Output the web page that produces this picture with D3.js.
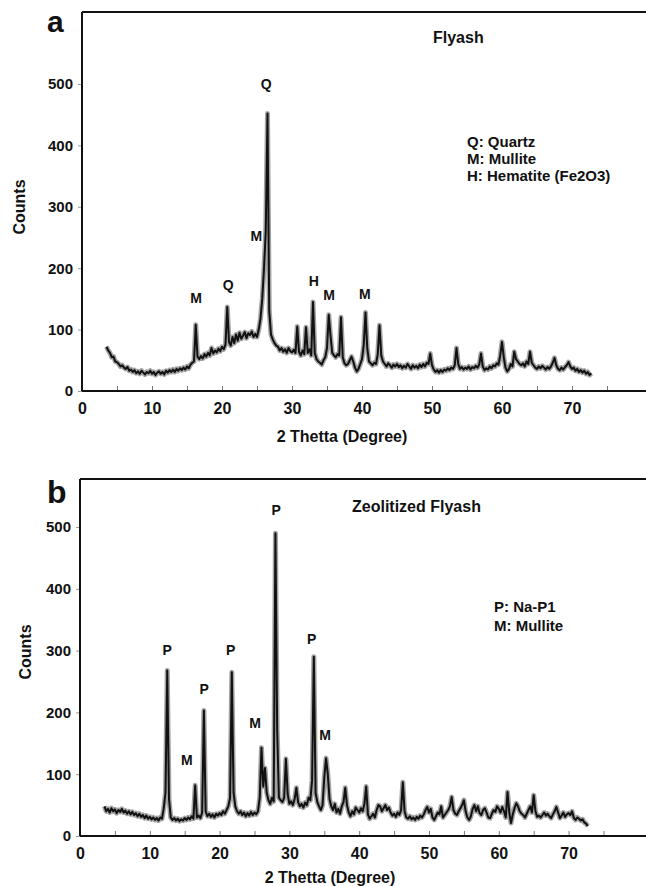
<!DOCTYPE html>
<html>
<head>
<meta charset="utf-8">
<script src="https://cdn.jsdelivr.net/npm/d3@7"></script>
<style>
  body { margin: 0; background: #fff; }
  svg { display: block; font-family: "Liberation Sans", Arial, sans-serif; font-weight: bold; }
</style>
</head>
<body>
<div id="chart"></div>
<script>
'use strict';

// scan starts at 3.5 deg, one reading every 0.25 deg
const scanStart = 3.5;
const scanStep = 0.25;

const flyashCounts = [
    72, 66,
    62, 55, 56, 48,   47, 44, 40, 42,   38, 36, 39, 33,   35, 31, 34, 29,
    32, 28, 33, 30,   27, 31, 29, 33,   28, 31, 26, 30,   32, 28, 31, 27,
    33, 30, 34, 31,   35, 31, 36, 33,   37, 34, 38, 35,   40, 37, 43, 46,
    48, 108, 56, 52,  57, 53, 60, 56,   62, 58, 70, 61,   66, 63, 69, 65,
    72, 68, 76, 137,  80, 74, 88, 78,   92, 82, 95, 85,   90, 96, 86, 94,
    91, 97, 88, 93,   88, 100, 118, 150, 200, 260, 452, 130, 92, 84, 78, 74,
    72, 66, 70, 64,   68, 62, 70, 65,   63, 67, 62, 105,  64, 58, 66, 60,
    104, 62, 68, 58,  145, 62, 52, 48,  46, 43, 50, 55,   70, 124, 90, 62,
    58, 55, 60, 58,   120, 55, 45, 42,  44, 50, 56, 48,   38, 32, 36, 44,
    52, 75, 128, 70,  48, 45, 42, 46,   44, 60, 107, 58,  48, 44, 40, 45,
    42, 38, 43, 40,   44, 39, 42, 37,   41, 38, 44, 40,   36, 42, 38, 41,
    37, 43, 39, 44,   40, 46, 44, 61,   42, 35, 31, 34,   30, 34, 31, 35,
    33, 37, 34, 38,   36, 42, 70, 44,   36, 39, 35, 38,   36, 40, 35, 39,
    37, 41, 38, 43,   61, 40, 34, 37,   35, 40, 37, 42,   40, 45, 43, 58,
    80, 55, 38, 32,   36, 44, 40, 64,   52, 48, 44, 42,   45, 40, 48, 44,
    64, 46, 42, 38,   36, 40, 37, 41,   38, 35, 39, 36,   40, 46, 54, 42,
    36, 34, 38, 35,   39, 42, 47, 40,   36, 38, 33, 36,   31, 34, 30, 33,
    28, 31, 26, 29
];

const zeoliteCounts = [
    48, 40,
    44, 38, 45, 40,   43, 37, 42, 39,   44, 38, 41, 36,   40, 35, 39, 34,
    37, 32, 36, 31,   34, 29, 33, 28,   31, 27, 30, 26,   29, 25, 30, 28,
    45, 70, 268, 60,  30, 26, 29, 25,   28, 24, 27, 25,   29, 26, 30, 27,
    32, 28, 82, 30,   33, 29, 38, 203,  40, 32, 36, 31,   35, 30, 36, 33,
    37, 34, 40, 36,   42, 48, 62, 265,  70, 48, 40, 36,   40, 34, 38, 32,
    37, 33, 39, 34,   38, 35, 40, 62,   143, 80, 110, 70, 58, 52, 62, 56,
    490, 170, 62, 58, 55, 62, 125, 68,  52, 56, 50, 60,   78, 55, 48, 52,
    46, 54, 50, 62,   58, 90, 290, 70,  55, 48, 42, 50,   95, 126, 100, 60,
    48, 42, 52, 38,   44, 36, 48, 55,   78, 50, 38, 32,   40, 35, 46, 42,
    38, 45, 40, 52,   80, 35, 28, 32,   36, 30, 42, 50,   48, 40, 45, 50,
    42, 46, 38, 33,   36, 31, 38, 34,   42, 87, 40, 30,   28, 32, 27, 30,
    26, 31, 28, 33,   30, 35, 42, 47,   38, 44, 30, 26,   32, 38, 35, 48,
    30, 34, 38, 42,   48, 63, 42, 36,   34, 40, 45, 50,   58, 40, 30, 26,
    32, 44, 50, 40,   48, 37, 34, 42,   45, 38, 30, 29,   36, 42, 39, 48,
    44, 38, 47, 40,   30, 71, 38, 21,   35, 45, 53, 48,   40, 36, 34, 30,
    36, 42, 48, 38,   66, 40, 31, 33,   30, 34, 38, 33,   36, 32, 29, 35,
    40, 47, 38, 29,   33, 38, 31, 35,   37, 34, 40, 29,   26, 30, 28, 25,
    27, 22, 20, 16
];

const countTicks = [0, 100, 200, 300, 400, 500];
const angleTicks = [0, 5, 10, 15, 20, 25, 30, 35, 40, 45, 50, 55, 60, 65, 70, 75];
const angleLabels = [0, 10, 20, 30, 40, 50, 60, 70];

const flyashPeaks = [
    {label: 'Q', angle: 26.3, count: 492},
    {label: 'M', angle: 16.3, count: 143},
    {label: 'Q', angle: 20.9, count: 164},
    {label: 'M', angle: 24.9, count: 244},
    {label: 'H', angle: 33.1, count: 171},
    {label: 'M', angle: 35.3, count: 148},
    {label: 'M', angle: 40.4, count: 150}
];

const zeolitePeaks = [
    {label: 'P', angle: 28.1, count: 519},
    {label: 'P', angle: 12.5, count: 293},
    {label: 'P', angle: 21.6, count: 293},
    {label: 'P', angle: 33.2, count: 311},
    {label: 'P', angle: 17.8, count: 230},
    {label: 'M', angle: 15.3, count: 115},
    {label: 'M', angle: 25.1, count: 175},
    {label: 'M', angle: 35.1, count: 155}
];

const flyashLegend = ['Q: Quartz', 'M: Mullite', 'H: Hematite (Fe2O3)'];
const zeoliteLegend = ['P: Na-P1', 'M: Mullite'];

const svg = d3.select('#chart').append('svg')
    .attr('width', 646)
    .attr('height', 886);

svg.append('rect').attr('width', 646).attr('height', 886).attr('fill', '#fff');

function drawPanel(opts) {
    let g = svg.append('g');

    let x = d3.scaleLinear().domain([0, 80]).range([opts.left, opts.left + 80 * opts.xPerDeg]);
    let y = d3.scaleLinear().domain([0, 500]).range([opts.zeroY, opts.y500]);

    let points = opts.counts.map(function (c, i) {
        return {angle: scanStart + i * scanStep, count: c};
    });

    let line = d3.line()
        .x(function (d) { return x(d.angle); })
        .y(function (d) { return y(d.count); });

    // soft halo to get the fuzzy scan look
    g.append('path').datum(points)
        .attr('d', line)
        .attr('fill', 'none')
        .attr('stroke', '#333')
        .attr('stroke-opacity', 0.45)
        .attr('stroke-width', 5)
        .attr('stroke-linejoin', 'round');

    g.append('path').datum(points)
        .attr('d', line)
        .attr('fill', 'none')
        .attr('stroke', '#111')
        .attr('stroke-width', 2)
        .attr('stroke-linejoin', 'round');

    // y axis
    let yAxis = g.append('g')
        .attr('transform', 'translate(' + opts.left + ',0)')
        .call(d3.axisLeft(y).tickValues(countTicks).tickSize(4).tickPadding(5));
    yAxis.select('.domain').remove();
    yAxis.selectAll('.tick line').attr('stroke', '#999');
    yAxis.selectAll('text')
        .attr('font-size', 15).attr('font-weight', 'bold')
        .attr('font-family', '"Liberation Sans", Arial, sans-serif')
        .attr('fill', '#111');

    // x axis, ticks point up inside the plot
    let xAxis = g.append('g')
        .attr('transform', 'translate(0,' + opts.zeroY + ')')
        .call(d3.axisBottom(x).tickValues(angleTicks).tickSize(-5).tickPadding(12)
            .tickFormat(function (d) { return angleLabels.indexOf(d) >= 0 ? d : ''; }));
    xAxis.select('.domain').remove();
    xAxis.selectAll('.tick line').attr('stroke', '#777');
    xAxis.selectAll('text')
        .attr('font-size', 16).attr('font-weight', 'bold')
        .attr('font-family', '"Liberation Sans", Arial, sans-serif')
        .attr('fill', '#111');

    // frame: top, left, bottom
    g.append('line')
        .attr('x1', opts.left).attr('x2', 646)
        .attr('y1', opts.top).attr('y2', opts.top)
        .attr('stroke', '#111').attr('stroke-width', 2);
    g.append('line')
        .attr('x1', opts.left).attr('x2', opts.left)
        .attr('y1', opts.top).attr('y2', opts.zeroY)
        .attr('stroke', '#111').attr('stroke-width', 2);
    g.append('line')
        .attr('x1', opts.left).attr('x2', 646)
        .attr('y1', opts.zeroY).attr('y2', opts.zeroY)
        .attr('stroke', '#111').attr('stroke-width', 2);

    // peak labels
    g.selectAll('.peak').data(opts.peaks).enter()
        .append('text')
        .attr('class', 'peak')
        .attr('x', function (d) { return x(d.angle); })
        .attr('y', function (d) { return y(d.count); })
        .attr('text-anchor', 'middle')
        .attr('font-size', 14)
        .attr('fill', '#111')
        .text(function (d) { return d.label; });

    g.append('text')
        .attr('x', opts.letterX).attr('y', opts.letterY)
        .attr('font-size', opts.letterSize)
        .attr('fill', '#111')
        .text(opts.letter);

    g.append('text')
        .attr('x', opts.titleX).attr('y', opts.titleY)
        .attr('font-size', 16)
        .attr('fill', '#111')
        .text(opts.title);

    g.selectAll('.legend').data(opts.legend).enter()
        .append('text')
        .attr('class', 'legend')
        .attr('x', opts.legendX)
        .attr('y', function (d, i) { return opts.legendY + i * opts.legendGap; })
        .attr('font-size', 15)
        .attr('fill', '#111')
        .text(function (d) { return d; });

    g.append('text')
        .attr('transform', 'translate(' + opts.countsX + ',' + opts.countsY + ') rotate(-90)')
        .attr('text-anchor', 'middle')
        .attr('font-size', 16)
        .attr('fill', '#111')
        .text('Counts');

    g.append('text')
        .attr('x', opts.axisTitleX).attr('y', opts.axisTitleY)
        .attr('text-anchor', 'middle')
        .attr('font-size', 16)
        .attr('fill', '#111')
        .text('2 Thetta (Degree)');
}

drawPanel({
    counts: flyashCounts, peaks: flyashPeaks, legend: flyashLegend,
    left: 82, xPerDeg: 7.0, top: 12, zeroY: 391, y500: 84,
    letter: 'a', letterX: 47, letterY: 32, letterSize: 30,
    title: 'Flyash', titleX: 433, titleY: 43,
    legendX: 467, legendY: 147, legendGap: 17,
    countsX: 25, countsY: 207,
    axisTitleX: 342, axisTitleY: 442
});

drawPanel({
    counts: zeoliteCounts, peaks: zeolitePeaks, legend: zeoliteLegend,
    left: 80, xPerDeg: 6.98, top: 479, zeroY: 836, y500: 527,
    letter: 'b', letterX: 47, letterY: 503, letterSize: 32,
    title: 'Zeolitized Flyash', titleX: 352, titleY: 512,
    legendX: 494, legendY: 612, legendGap: 19,
    countsX: 31, countsY: 652,
    axisTitleX: 330, axisTitleY: 883
});
</script>
</body>
</html>
